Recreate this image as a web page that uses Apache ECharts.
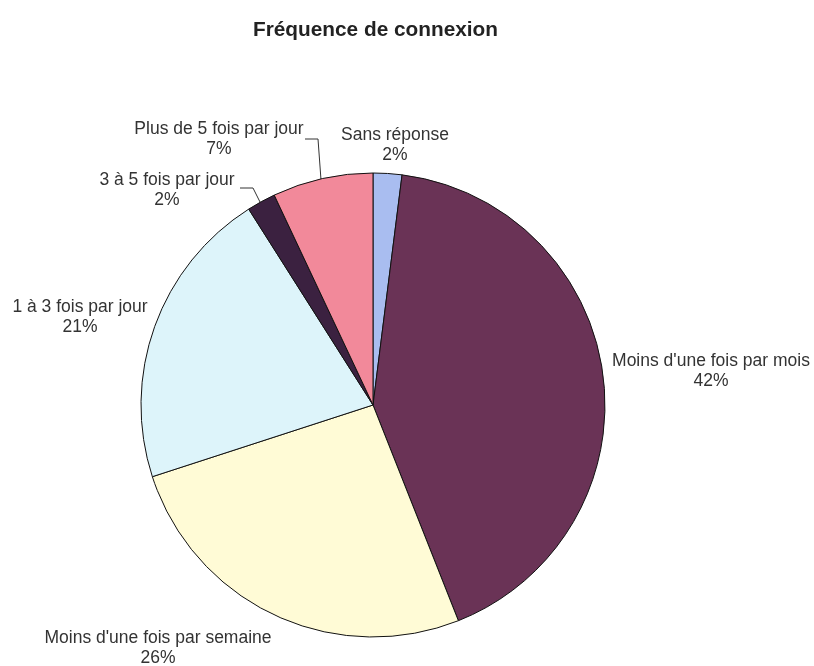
<!DOCTYPE html>
<html>
<head>
<meta charset="utf-8">
<script src="https://cdn.jsdelivr.net/npm/echarts@6/dist/echarts.min.js"></script>
<style>
  html, body { margin: 0; padding: 0; background: #fff; }
  #chart { width: 814px; height: 666px; }
</style>
</head>
<body>
<div id="chart"></div>
<script>
// données
var categories = ['Sans réponse', "Moins d'une fois par mois", "Moins d'une fois par semaine",
  '1 à 3 fois par jour', '3 à 5 fois par jour', 'Plus de 5 fois par jour']
var values = [2, 42, 26, 21, 2, 7]
var colors = ['#a9bdf0', '#6a3356', '#fffbd6', '#ddf4fa', '#3b2140', '#f2899a']

// position des étiquettes (centre du texte)
var labelPos = [
  [395, 145], [711, 371], [158, 648], [80, 317], [167, 190], [219, 139]
]
var linePts = {
  4: [[240, 188], [253, 188], [260, 202]],
  5: [[305, 139], [318, 139], [321, 180]]
}

var myChart = echarts.init(document.getElementById('chart'))

var option = {
  animation: false,
  color: colors,
  title: {
    text: 'Fréquence de connexion',
    left: 248,
    top: 15,
    textStyle: { fontFamily: 'Liberation Sans', fontSize: 20.8, fontWeight: 'bold', color: '#222' }
  },
  series: [{
    type: 'pie',
    center: [373, 405],
    radius: 232,
    startAngle: 90,
    clockwise: true,
    data: categories.map(function (c, i) { return { name: c, value: values[i] } }),
    itemStyle: { borderColor: '#111', borderWidth: 1 },
    label: {
      show: true,
      position: 'outside',
      formatter: '{b}\n{d}%',
      fontFamily: 'Liberation Sans',
      fontSize: 17.5,
      lineHeight: 20,
      color: '#333',
      align: 'center',
      overflow: 'none',
      width: 300
    },
    labelLine: { show: true, length: 10, length2: 10, lineStyle: { color: '#333', width: 1 } },
    labelLayout: function (p) {
      var pos = labelPos[p.dataIndex]
      var res = {
        x: pos[0],
        y: pos[1],
        align: 'center',
        verticalAlign: 'middle'
      }
      if (linePts[p.dataIndex]) res.labelLinePoints = linePts[p.dataIndex]
      else res.labelLinePoints = [[pos[0], pos[1]], [pos[0], pos[1]], [pos[0], pos[1]]]
      return res
    }
  }]
}

myChart.setOption(option)
</script>
</body>
</html>
